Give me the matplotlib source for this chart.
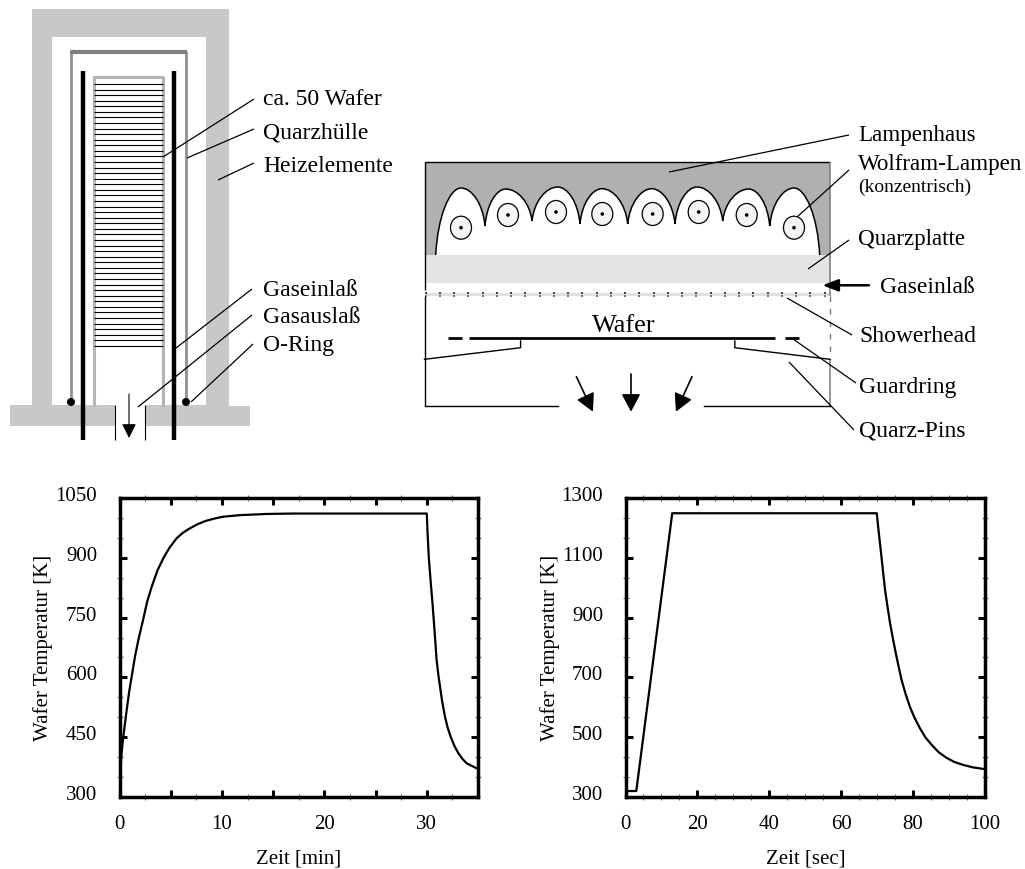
import numpy as np
import matplotlib
matplotlib.use("Agg")
import matplotlib.pyplot as plt
from matplotlib.patches import Polygon, Rectangle, Ellipse, Circle, PathPatch
from matplotlib.path import Path
from matplotlib.ticker import AutoMinorLocator
from matplotlib.transforms import ScaledTranslation

plt.rcParams["font.family"] = ["Liberation Serif", "DejaVu Serif"]

# Ofenprozess
t_furnace = [0, 0.05, 0.2, 0.37, 0.7, 0.95, 1.19, 1.51, 1.84, 2.3, 2.7, 3.14, 3.7, 4.28, 4.9, 5.58, 6.2, 6.88,
             7.6, 8.35, 9.2, 10.1, 11.76, 14.4, 17, 30, 30.08, 30.2, 30.38, 30.57, 30.76, 30.96, 31.12, 31.29,
             31.5, 31.78, 32.05, 32.33, 32.7, 33.08, 33.5, 33.9, 34.4, 34.87, 35]
T_furnace = [300, 351, 410, 451, 518, 565, 602, 652, 694, 744, 790, 827, 868, 899, 926, 949, 963, 974,
             984, 992, 998, 1003, 1007, 1010, 1011, 1011, 960, 899, 840, 782, 716, 644, 608, 577,
             540, 501, 473, 451, 428, 410, 395, 384.5, 378, 372, 371]
x_ticks_l = [0, 5, 10, 15, 20, 25, 30, 35]
x_labels_l = ["0", "", "10", "", "20", "", "30", ""]
y_ticks_l = [300, 450, 600, 750, 900, 1050]

# RTP-Prozess
t_rtp = [0, 0.2, 3, 13, 69.9, 70.4, 71, 71.6, 72.2, 72.9, 73.6, 74.3, 75, 75.9, 76.8, 77.9, 79.1, 80.4, 81.9,
         83.4, 85.2, 87.1, 89.3, 91.5, 94, 96.7, 99.5, 100]
T_rtp = [300, 320, 320, 1249, 1249, 1190, 1126, 1058, 992, 935, 881, 835, 792, 740, 691, 645, 602, 565, 530,
         500, 474, 450, 431, 417, 407, 399, 394, 393]
x_ticks_r = [0, 20, 40, 60, 80, 100]
y_ticks_r = [300, 500, 700, 900, 1100, 1300]

# Beschriftungen Diagramm: (Text, x, Grundlinie, Groesse)
labels_furnace = [("ca. 50 Wafer", 263, 105, 17), ("Quarzhülle", 263, 138.5, 17), ("Heizelemente", 263, 172, 17),
                  ("Gaseinlaß", 263, 296, 17), ("Gasauslaß", 263, 323, 17), ("O-Ring", 263, 350.5, 17)]
labels_rtp = [("Lampenhaus", 858, 141, 16.6), ("Wolfram-Lampen", 858, 170, 16.6),
              ("(konzentrisch)", 858, 192, 14), ("Quarzplatte", 858, 245.5, 16.6),
              ("Gaseinlaß", 880, 293, 17), ("Showerhead", 859, 342.5, 17), ("Guardring", 859, 392.5, 17),
              ("Quarz-Pins", 859, 436, 17), ("Wafer", 592, 331.5, 19)]
leaders_furnace = [((254, 99), (163, 157)), ((254, 129), (187, 158)), ((254, 163), (218, 180)),
                   ((252, 289), (176, 348)), ((252, 315), (138, 407)), ((253, 344), (191, 402))]
leaders_rtp = [((849, 135), (669, 172)), ((849, 170), (797, 217)), ((849, 240), (808, 269)),
               ((852, 335), (787, 298)), ((856, 383), (793, 339)), ((854, 430), (789, 362))]
# Reflektor: Spitzen und Scheitel
cusps = [(435.7, 255), (485, 226), (532, 221), (580, 224), (627.7, 224), (675, 224), (722.7, 221), (769.7, 226), (819.7, 255)]
peaks = [(461, 188), (505.7, 189), (557.7, 187), (602, 188.7), (651.7, 188.7), (697, 187), (748.7, 189), (794, 188)]
lamps = [(461, 227.7), (508, 215), (556, 212), (602.3, 214), (652.7, 214), (698.7, 212), (746.7, 215), (794, 227.7)]

HEAT = "#c8c8c8"


def line(ax, p, q, lw=1.0, color="black", z=5, **kw):
    ax.plot([p[0], q[0]], [p[1], q[1]], color=color, lw=lw, zorder=z, solid_capstyle="butt", **kw)


def arrow(ax, p, q, lw=1.0, hl=15, hw=8):
    # hl, hw in Pixel (mutation_scale 10 -> 10 pt)
    ax.annotate("", xy=q, xytext=p, zorder=6,
                arrowprops=dict(arrowstyle=f"-|>,head_length={hl * 0.072},head_width={hw * 0.072}",
                                color="black", lw=lw, shrinkA=0, shrinkB=0, mutation_scale=10))


def draw_furnace(ax):
    ax.add_patch(Polygon([(32, 405), (32, 9), (229, 9), (229, 406), (250, 406), (250, 426), (146, 426),
                          (146, 405), (206, 405), (206, 37), (52, 37), (52, 405), (115, 405), (115, 426),
                          (10, 426), (10, 405)], fc=HEAT, ec="none", zorder=1))
    # Quarzhuelle
    ax.plot([71, 71, 186, 186], [402, 52, 52, 402], color="#909090", lw=2.0, zorder=2)
    ax.plot([70, 187], [52, 52], color="#808080", lw=3.0, zorder=2, solid_capstyle="butt")
    # Boot und Wafer
    ax.plot([94, 94, 163, 163], [405, 77, 77, 405], color="#b4b4b4", lw=2.2, zorder=2)
    for y in np.arange(84, 346, 5.57):
        line(ax, (94, y), (163, y), lw=0.8, z=3)
    for x in (83, 174):
        line(ax, (x, 71), (x, 440), lw=3.2)
    for x in (71, 186):
        ax.add_patch(Circle((x, 402), 4, fc="black", ec="none", zorder=6))
    for x in (115, 145):
        line(ax, (x, 405), (x, 440), lw=0.8)
    arrow(ax, (129, 394), (129, 438), lw=0.8, hl=12, hw=6)
    for p, q in leaders_furnace:
        line(ax, p, q, lw=0.9)
    for s, x, y, fs in labels_furnace:
        ax.text(x, y, s, fontsize=fs, va="baseline", ha="left")


def draw_rtp(ax):
    ax.add_patch(Rectangle((424.5, 162), 405.5, 93, fc="#b0b0b0", ec="none", zorder=1))
    verts, codes = [cusps[0]], [Path.MOVETO]
    for a, pk, b in zip(cusps[:-1], peaks, cusps[1:]):
        verts += [(a[0] + 0.08 * (pk[0] - a[0]), pk[1] + 0.42 * (a[1] - pk[1])),
                  (pk[0] - 0.45 * (pk[0] - a[0]), pk[1]), pk,
                  (pk[0] + 0.45 * (b[0] - pk[0]), pk[1]),
                  (b[0] - 0.08 * (b[0] - pk[0]), pk[1] + 0.42 * (b[1] - pk[1])), b]
        codes += [Path.CURVE4] * 6
    ax.add_patch(PathPatch(Path(verts, codes), fc="white", ec="black", lw=1.1, zorder=2))
    ax.add_patch(Rectangle((424.5, 255), 405.5, 27.7, fc="#e4e4e4", ec="none", zorder=3))
    ax.add_patch(Rectangle((424.5, 292.5), 405.5, 3.7, fc="#e0e0e0", ec="none", zorder=3))
    xs = np.arange(425.7, 828, 14.25)
    ax.scatter(xs, np.full_like(xs, 292.7), s=3, marker="s", c="#444444", lw=0, zorder=4)
    ax.scatter(xs, np.full_like(xs, 296), s=2, marker="s", c="#777777", lw=0, zorder=4)
    for (x, y) in lamps:
        ax.add_patch(Ellipse((x, y), 21, 23, fc="#f4f4f4", ec="black", lw=0.9, zorder=4))
        ax.add_patch(Circle((x, y), 1.8, fc="black", ec="none", zorder=5))
    # Gehaeuse
    line(ax, (424.5, 162), (830, 162), lw=1)
    line(ax, (424.5, 162), (424.5, 290), lw=1)
    line(ax, (424.5, 296), (424.5, 405.5), lw=1)
    ax.plot([424.5, 558], [405.5, 405.5], color="black", lw=1, zorder=5)
    ax.plot([704, 830], [405.5, 405.5], color="black", lw=1, zorder=5)
    line(ax, (830, 162), (830, 296), lw=1.1, color="#777777")
    line(ax, (830, 296), (830, 360), lw=1, color="#777777", ls=(0, (4, 5)))
    line(ax, (830, 360), (830, 405.5), lw=1.1, color="#777777")
    # Wafer, Guardring, Pins
    line(ax, (469, 337.5), (775, 337.5), lw=2)
    line(ax, (447.5, 337.5), (461.6, 337.5), lw=2)
    line(ax, (785, 337.5), (799, 337.5), lw=2)
    ax.plot([424.5, 520.6, 520.6], [359.3, 347.7, 341], color="black", lw=1, zorder=5)
    ax.plot([734.8, 734.8, 830], [341, 347.7, 359.3], color="black", lw=1, zorder=5)
    arrow(ax, (576.4, 376.7), (592.9, 411.7), lw=1.2)
    arrow(ax, (631, 374), (631, 411.7), lw=1.2)
    arrow(ax, (692, 376.7), (675.9, 411.7), lw=1.2)
    arrow(ax, (869, 285.3), (822.4, 285.3), lw=1.8, hl=13, hw=5)
    for p, q in leaders_rtp:
        line(ax, p, q, lw=0.9)
    for s, x, y, fs in labels_rtp:
        ax.text(x, y, s, fontsize=fs, va="baseline", ha="left")


def draw_curve(fig, pos, t, T, xlim, ylim, xticks, xlabels, yticks, xlabel, xminor, ypad):
    ax = fig.add_axes(pos)
    ax.plot(t, T, color="black", lw=1.6)
    ax.set_xlim(*xlim)
    ax.set_ylim(*ylim)
    ax.set_xticks(xticks, xlabels)
    ax.set_yticks(yticks)
    ax.xaxis.set_minor_locator(AutoMinorLocator(xminor))
    ax.yaxis.set_minor_locator(AutoMinorLocator(3))
    ax.tick_params(which="major", direction="in", top=True, right=True, length=5, width=2.2, labelsize=15)
    ax.tick_params(which="minor", direction="inout", top=True, right=True, length=3.8, width=0.8, color="#666666")
    ax.tick_params(axis="x", which="major", pad=13)
    ax.tick_params(axis="y", which="major", pad=16)
    for s in ax.spines.values():
        s.set_linewidth(2.5)
    # Zahlen der y-Achse sitzen etwas ueber den Strichen
    shift = ScaledTranslation(0, 4 / 100, fig.dpi_scale_trans)
    for lab in ax.get_yticklabels():
        lab.set_transform(lab.get_transform() + shift)
    ax.set_xlabel(xlabel, fontsize=15, labelpad=11)
    ax.set_ylabel("Wafer Temperatur [K]", fontsize=15, labelpad=ypad)
    return ax


fig = plt.figure(figsize=(10.25, 8.69), dpi=100)
bg = fig.add_axes([0, 0, 1, 1])
bg.set_xlim(0, 1025)
bg.set_ylim(869, 0)
bg.axis("off")
draw_furnace(bg)
draw_rtp(bg)

W, H = 1025, 869
top, bottom = 498, 797
draw_curve(fig, [119.5 / W, 1 - bottom / H, 358.5 / W, (bottom - top) / H], t_furnace, T_furnace,
           (0, 35), (300, 1050), x_ticks_l, x_labels_l, y_ticks_l, "Zeit [min]", 2, 2)
draw_curve(fig, [625.5 / W, 1 - bottom / H, 359.5 / W, (bottom - top) / H], t_rtp, T_rtp,
           (0, 100), (300, 1300), x_ticks_r, [str(v) for v in x_ticks_r], y_ticks_r, "Zeit [sec]", 4, 1)

fig.savefig("out.png", dpi=100)
